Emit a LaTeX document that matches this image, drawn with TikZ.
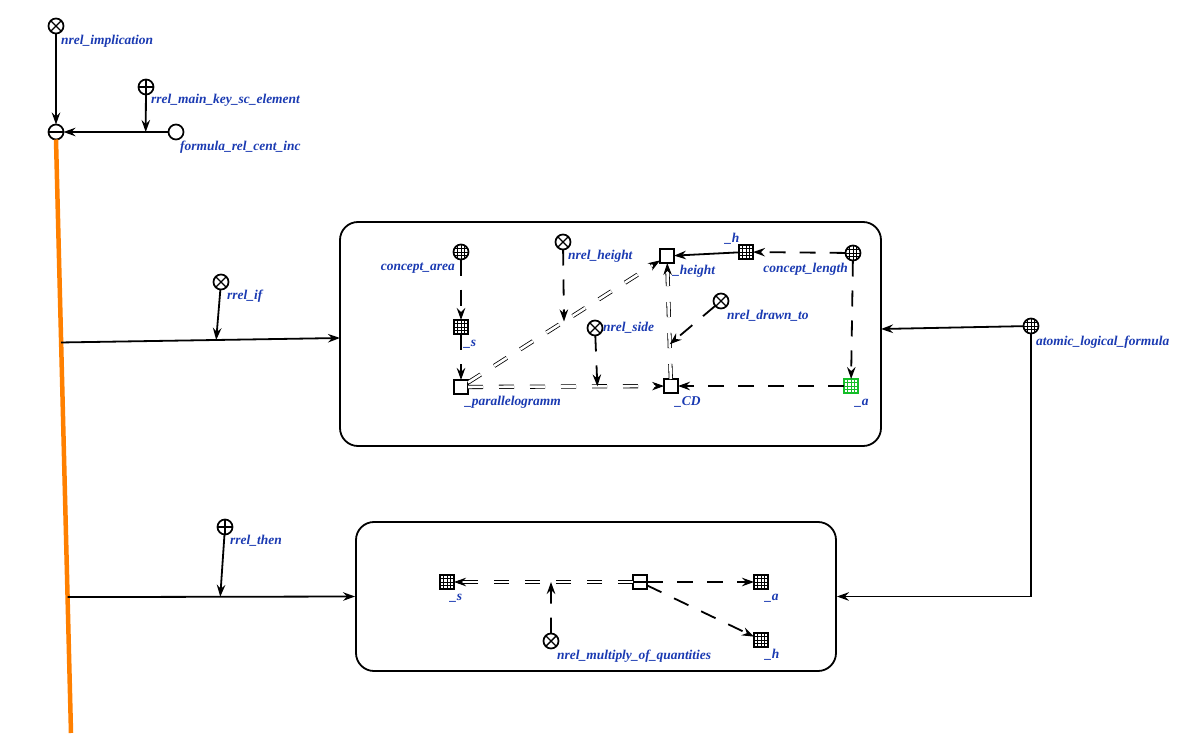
\documentclass[tikz,border=0pt]{standalone}
\usepackage{fontspec}
\setmainfont{Liberation Serif}
\usetikzlibrary{arrows.meta}
\definecolor{lblblue}{RGB}{26,58,178}
\definecolor{orng}{RGB}{255,128,0}
\definecolor{grn}{RGB}{20,190,40}
\tikzset{
  basenode/.style={draw, line width=1.7bp, fill=white, inner sep=0pt, outer sep=0pt},
  circ/.style={basenode, circle, minimum size=15bp},
  sqr/.style={basenode, rectangle, minimum size=14bp},
  xmark/.style={circ, path picture={\draw[line width=1.4bp] (path picture bounding box.north west) -- (path picture bounding box.south east) (path picture bounding box.north east) -- (path picture bounding box.south west);}},
  pmark/.style={circ, path picture={\draw[line width=1.4bp] (path picture bounding box.north) -- (path picture bounding box.south) (path picture bounding box.east) -- (path picture bounding box.west);}},
  mmark/.style={circ, path picture={\draw[line width=1.4bp] (path picture bounding box.east) -- (path picture bounding box.west);}},
  gridlines/.style={path picture={\draw[line width=0.8bp, shift={(path picture bounding box.center)}] (-9,-3.5) -- (9,-3.5) (-9,0) -- (9,0) (-9,3.5) -- (9,3.5) (-3.5,-9) -- (-3.5,9) (0,-9) -- (0,9) (3.5,-9) -- (3.5,9);}},
  gcirc/.style={circ, gridlines},
  gsq/.style={sqr, gridlines},
  tsq/.style={sqr, path picture={\draw[line width=1.4bp] (path picture bounding box.east) -- (path picture bounding box.west);}},
  lbl/.style={text=lblblue, font=\bfseries\itshape\fontsize{13.5}{15}\selectfont, inner sep=0pt, anchor=base west},
  lble/.style={lbl, anchor=base east},
  tip/.style={-{Stealth[length=12bp,width=8.5bp,inset=4bp]}},
  arr/.style={tip, line width=1.8bp},
  acc/.style={arr, dash pattern=on 16bp off 14bp},
  dbl/.style={tip, double, double distance=2.6bp, line width=0.8bp, dash pattern=on 15bp off 16bp},
  contour/.style={draw, line width=1.8bp, rounded corners=18bp, inner sep=0pt},
}
\begin{document}
\begin{tikzpicture}[x=1bp, y=-1bp]
\useasboundingbox (0,0) rectangle (1188,747);
\fill[white] (0,0) rectangle (1188,747);

% contours
\node[contour, minimum width=541bp, minimum height=224bp] (box1) at (610.5,334) {};
\node[contour, minimum width=480bp, minimum height=149bp] (box2) at (596,596.5) {};

% top part
\node[xmark] (ni) at (56,26) {};
\node[pmark] (rmk) at (146,87) {};
\node[circ] (frci) at (176,132) {};
\node[mmark] (mn) at (56,132) {};
\node[lbl] (lni) at (61,45) {nrel\_implication};
\node[lbl] (lrmk) at (151,104) {rrel\_main\_key\_sc\_element};
\node[lbl] (lfrci) at (180,150) {formula\_rel\_cent\_inc};

\draw[arr] (ni) -- (mn);
\draw[arr] (frci) -- coordinate[pos=0.217] (kmid) (mn);
\draw[arr] (rmk) -- (kmid);

% orange line
\coordinate (oend) at (71,733);
\draw[orng, line width=4.5bp] (mn.south) -- coordinate[pos=0.342] (ifs) coordinate[pos=0.771] (ths) (oend);

% if / then
\node[xmark] (ri) at (221,282) {};
\node[lbl] (lri) at (227,299) {rrel\_if};
\coordinate (ifend) at (340,338);
\draw[arr] (ifs) -- coordinate[pos=0.556] (ifm) (ifend);
\draw[arr] (ri) -- (ifm);

\node[pmark] (rt) at (225,527) {};
\node[lbl] (lrt) at (230,544) {rrel\_then};
\draw[arr] (ths) -- coordinate[pos=0.531] (thm) (box2.west);
\draw[arr] (rt) -- (thm);

% atomic logical formula
\node[gcirc] (alf) at (1031,326) {};
\node[lbl] (lalf) at (1036,345) {atomic\_logical\_formula};
\coordinate (alfend) at (881,329);
\draw[arr] (alf) -- (alfend);
\draw[arr] (alf) |- (box2.east);

% box 1 content
\node[gcirc] (ca) at (461,252) {};
\node[lble] (lca) at (455,270) {concept\_area};
\node[gsq] (s1) at (461,327) {};
\node[lbl] (ls1) at (464,346) {\_s};
\node[sqr] (par) at (461,387) {};
\node[lbl] (lpar) at (465,405) {\_parallelogramm};
\node[xmark] (nh) at (563,242) {};
\node[lbl] (lnh) at (568,259) {nrel\_height};
\node[sqr] (ht) at (667,256) {};
\node[lbl] (lht) at (673,274) {\_height};
\node[gsq] (h1) at (746,252) {};
\node[lbl] (lh1) at (725,242) {\_h};
\node[gcirc] (cl) at (853,253) {};
\node[lble] (lcl) at (848,272) {concept\_length};
\node[xmark] (ns) at (595,328) {};
\node[lbl] (lns) at (603,331) {nrel\_side};
\node[xmark] (ndt) at (721,301) {};
\node[lbl] (lndt) at (727,319) {nrel\_drawn\_to};
\node[sqr] (cd) at (671,386) {};
\node[lbl] (lcd) at (675,405) {\_CD};
\node[gsq, draw=grn] (a1) at (851,386) {};
\node[lbl] (la1) at (855,405) {\_a};

\draw[acc] (ca) -- (s1);
\draw[acc] (s1) -- (par);
\draw[dbl] (par) -- coordinate[pos=0.5] (m1) (ht);
\draw[acc] (nh) -- (m1);
\draw[dbl] (par) -- coordinate[pos=0.66] (m2) (cd);
\draw[acc] (ns) -- (m2);
\draw[dbl] (cd) -- coordinate[pos=0.3] (m3) (ht);
\draw[acc] (ndt) -- (m3);
\draw[arr] (h1) -- (ht);
\draw[acc] (cl) -- (h1);
\draw[acc] (cl) -- (a1);
\draw[acc] (a1) -- (cd);

% box 2 content
\node[gsq] (s2) at (447,582) {};
\node[lbl] (ls2) at (450,600) {\_s};
\node[tsq] (tup) at (640,582) {};
\node[gsq] (a2) at (761,582) {};
\node[lbl] (la2) at (765,600) {\_a};
\node[gsq] (h2) at (761,640) {};
\node[lbl] (lh2) at (765,658) {\_h};
\node[xmark] (nmq) at (551,641) {};
\node[lbl] (lnmq) at (557,659) {nrel\_multiply\_of\_quantities};

\draw[dbl] (tup) -- coordinate[pos=0.458] (m4) (s2);
\draw[acc] (nmq) -- (m4);
\draw[acc] (tup) -- (a2);
\draw[acc] (tup) -- (h2);
\end{tikzpicture}
\end{document}
